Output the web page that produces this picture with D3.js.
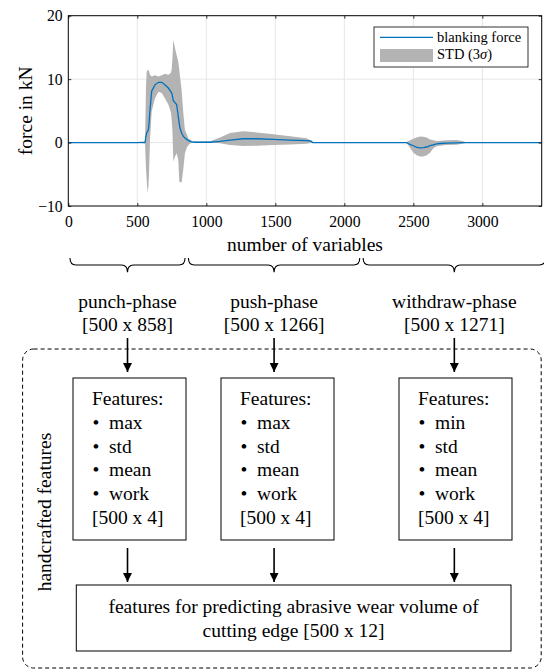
<!DOCTYPE html>
<html>
<head>
<meta charset="utf-8">
<script src="https://cdn.jsdelivr.net/npm/d3@7"></script>
<style>
  body { margin: 0; background: #fff; }
  svg { display: block; font-family: "Liberation Serif", "Times New Roman", serif; }
</style>
</head>
<body>
<svg id="fig" width="544" height="670"></svg>
<script>
// sample positions (number of variables) and force values in kN
const varIdx = [0, 500, 556, 563, 568, 575, 580, 585, 592, 604, 628, 653, 677, 700, 725, 744, 749, 754,
  761, 773, 785, 797, 804, 809, 821, 833, 845, 858, 870, 894, 918, 1027, 1099, 1172, 1268, 1365,
  1486, 1607, 1727, 1757, 1771, 2440, 2452, 2476, 2500, 2525, 2549, 2573, 2597, 2621, 2645, 2669,
  2693, 2742, 2814, 2862, 2887, 3430];
const meanForce = [0, 0, 0.05, 1.0, 1.5, 1.8, 2.0, 3.0, 5.2, 8.1, 9.1, 9.5, 9.5, 9.1, 8.6, 8.0, 7.8, 7.4,
  6.6, 6.3, 6.0, 4.1, 3.0, 2.3, 1.5, 1.0, 0.7, 0.5, 0.3, 0.1, 0.05, 0.05, 0.2, 0.4, 0.6, 0.6,
  0.5, 0.4, 0.3, 0.25, 0, 0, 0, -0.3, -0.5, -0.75, -0.85, -0.8, -0.7, -0.5, -0.35, -0.2,
  -0.15, -0.1, -0.05, 0, 0, 0];
const stdUpper = [0, 0, 0.1, 9.0, 11.2, 11.4, 11.5, 11.2, 10.7, 10.4, 10.6, 10.4, 10.6, 10.85, 10.7, 11.0, 11.5, 13.0,
  16.2, 14.9, 13.8, 12.7, 11.5, 10.5, 8.3, 4.7, 2.0, 1.3, 0.7, 0.3, 0.15, 0.2, 0.8, 1.5, 1.8, 1.6,
  1.3, 1.0, 0.7, 0.3, 0, 0, 0.1, 0.35, 0.6, 0.8, 0.95, 0.9, 0.8, 0.5, 0.35, 0.25,
  0.3, 0.35, 0.4, 0.2, 0, 0];
const stdLower = [0, 0, -0.2, -4.2, -6.0, -7.9, -7.0, -4.8, 0.5, 4.9, 7.0, 8.0, 7.8, 7.0, 6.0, 4.7, 3.5, 2.0,
  -3.0, -2.2, -1.7, -2.7, -6.1, -6.2, -6.3, -4.2, -1.7, -0.8, -0.4, 0, -0.05, 0, -0.1, -0.4, -0.55, -0.5,
  -0.4, -0.3, -0.2, -0.05, 0, 0, -0.1, -0.8, -1.6, -2.0, -2.2, -2.2, -2.0, -1.6, -0.9, -0.6,
  -0.5, -0.4, -0.35, -0.15, 0, 0];

const xTicks = [0, 500, 1000, 1500, 2000, 2500, 3000];
const yTicks = [-10, 0, 10, 20];

const phaseNames = ["punch-phase", "push-phase", "withdraw-phase"];
const phaseSizes = ["[500 x 858]", "[500 x 1266]", "[500 x 1271]"];
const phaseBounds = [0, 858, 2124, 3470];
const featureLists = [
  ["max", "std", "mean", "work"],
  ["max", "std", "mean", "work"],
  ["min", "std", "mean", "work"]
];
const featureSize = "[500 x 4]";
const resultLines = ["features for predicting abrasive wear volume of", "cutting edge [500 x 12]"];

const svg = d3.select("#fig");
const plot = { left: 68.3, right: 541.7, top: 15.7, bottom: 206 };
const x = d3.scaleLinear().domain([0, 3430]).range([plot.left, plot.right]);
const y = d3.scaleLinear().domain([-10, 20]).range([plot.bottom, plot.top]);
const pts = varIdx.map((v, i) => ({ v, m: meanForce[i], hi: stdUpper[i], lo: stdLower[i] }));

// grid
const grid = svg.append("g").attr("stroke", "#e3e3e3").attr("stroke-width", 0.9);
grid.selectAll("line.gx").data(xTicks.slice(1)).enter().append("line")
  .attr("x1", d => x(d)).attr("x2", d => x(d)).attr("y1", plot.top).attr("y2", plot.bottom);
grid.selectAll("line.gy").data(yTicks.slice(1, -1)).enter().append("line")
  .attr("x1", plot.left).attr("x2", plot.right).attr("y1", d => y(d)).attr("y2", d => y(d));

// std band and mean curve
svg.append("path").datum(pts)
  .attr("fill", "#b3b3b3")
  .attr("d", d3.area().x(d => x(d.v)).y0(d => y(d.lo)).y1(d => y(d.hi)));
svg.append("path").datum(pts)
  .attr("fill", "none").attr("stroke", "#0072BD").attr("stroke-width", 1.3)
  .attr("d", d3.line().x(d => x(d.v)).y(d => y(d.m)));

// axes (inward ticks, box on)
const fmt = d3.format("d");
const axB = svg.append("g").attr("transform", `translate(0,${plot.bottom})`)
  .call(d3.axisBottom(x).tickValues(xTicks).tickSize(-3).tickSizeOuter(0).tickPadding(9.5).tickFormat(fmt));
const axL = svg.append("g").attr("transform", `translate(${plot.left},0)`)
  .call(d3.axisLeft(y).tickValues(yTicks).tickSize(-3).tickSizeOuter(0).tickPadding(5.6).tickFormat(fmt));
svg.append("g").attr("transform", `translate(0,${plot.top})`)
  .call(d3.axisTop(x).tickValues(xTicks).tickSize(-3).tickSizeOuter(0).tickFormat(""));
svg.append("g").attr("transform", `translate(${plot.right},0)`)
  .call(d3.axisRight(y).tickValues(yTicks).tickSize(-3).tickSizeOuter(0).tickFormat(""));
svg.selectAll(".domain").remove();
svg.selectAll(".tick line").attr("stroke", "#000").attr("stroke-width", 0.8);
[axB, axL].forEach(a => a.selectAll("text").attr("font-family", "Liberation Serif").attr("font-size", 15.7).attr("fill", "#000"));
svg.append("rect")
  .attr("x", plot.left).attr("y", plot.top)
  .attr("width", plot.right - plot.left).attr("height", plot.bottom - plot.top)
  .attr("fill", "none").attr("stroke", "#000").attr("stroke-width", 1);

svg.append("text").attr("x", (plot.left + plot.right) / 2).attr("y", 251)
  .attr("text-anchor", "middle").attr("font-size", 19.5).text("number of variables");
svg.append("text").attr("transform", `translate(32,${(plot.top + plot.bottom) / 2}) rotate(-90)`)
  .attr("text-anchor", "middle").attr("font-size", 19.5).text("force in kN");

// legend
const lg = svg.append("g");
lg.append("rect").attr("x", 374).attr("y", 27).attr("width", 154).attr("height", 40)
  .attr("fill", "#fff").attr("stroke", "#000").attr("stroke-width", 0.8);
lg.append("line").attr("x1", 380).attr("x2", 433).attr("y1", 37.3).attr("y2", 37.3)
  .attr("stroke", "#0072BD").attr("stroke-width", 1.3);
lg.append("rect").attr("x", 380).attr("y", 49).attr("width", 53).attr("height", 13).attr("fill", "#b3b3b3");
lg.append("text").attr("x", 437).attr("y", 41.5).attr("font-size", 14.5).text("blanking force");
const t2 = lg.append("text").attr("x", 437).attr("y", 59).attr("font-size", 14.5);
t2.append("tspan").text("STD (3");
t2.append("tspan").attr("font-style", "italic").text("σ");
t2.append("tspan").text(")");

// braces under the axis
const braceTop = 258, braceMid = 265, braceTip = 272.3;
function bracePath(x1, x2) {
  const m = (x1 + x2) / 2, q = 6;
  return `M${x1},${braceTop} Q${x1},${braceMid} ${x1 + q},${braceMid} L${m - q},${braceMid}` +
    ` Q${m},${braceMid} ${m},${braceTip} Q${m},${braceMid} ${m + q},${braceMid}` +
    ` L${x2 - q},${braceMid} Q${x2},${braceMid} ${x2},${braceTop}`;
}
const phases = phaseNames.map((n, i) => {
  const a = x(phaseBounds[i]) + 1.7, b = x(phaseBounds[i + 1]) - 1.7;
  return { name: n, size: phaseSizes[i], a, b, c: (a + b) / 2 };
});
svg.selectAll("path.brace").data(phases).enter().append("path")
  .attr("d", d => bracePath(d.a, d.b))
  .attr("fill", "none").attr("stroke", "#000").attr("stroke-width", 1.1);
svg.selectAll("text.pname").data(phases).enter().append("text")
  .attr("x", d => d.c).attr("y", 308).attr("text-anchor", "middle").attr("font-size", 19.5).text(d => d.name);
svg.selectAll("text.psize").data(phases).enter().append("text")
  .attr("x", d => d.c).attr("y", 330.5).attr("text-anchor", "middle").attr("font-size", 19.5).text(d => d.size);

// flow diagram
svg.append("defs").append("marker").attr("id", "ah")
  .attr("viewBox", "0 0 10 10").attr("refX", 10).attr("refY", 5)
  .attr("markerWidth", 9).attr("markerHeight", 9).attr("markerUnits", "userSpaceOnUse")
  .attr("orient", "auto")
  .append("path").attr("d", "M0,0 L10,5 L0,10 z").attr("fill", "#000");

svg.append("rect").attr("x", 22.6).attr("y", 349).attr("width", 518.6).attr("height", 319)
  .attr("rx", 11).attr("fill", "none").attr("stroke", "#000").attr("stroke-width", 1)
  .attr("stroke-dasharray", "4,3");
svg.append("text").attr("transform", "translate(51,512) rotate(-90)")
  .attr("text-anchor", "middle").attr("font-size", 19.5).text("handcrafted features");

const boxLeft = [73, 221, 399];
const boxW = 113;
const arrowX = phases.map(p => p.c);
arrowX.forEach(ax => {
  svg.append("line").attr("x1", ax).attr("x2", ax).attr("y1", 338).attr("y2", 372)
    .attr("stroke", "#000").attr("stroke-width", 1.6).attr("marker-end", "url(#ah)");
  svg.append("line").attr("x1", ax).attr("x2", ax).attr("y1", 548).attr("y2", 582)
    .attr("stroke", "#000").attr("stroke-width", 1.6).attr("marker-end", "url(#ah)");
});
featureLists.forEach((list, i) => {
  const bx = boxLeft[i];
  const g = svg.append("g");
  g.append("rect").attr("x", bx).attr("y", 378).attr("width", boxW).attr("height", 162)
    .attr("fill", "#fff").attr("stroke", "#000").attr("stroke-width", 1);
  g.append("text").attr("x", bx + 19).attr("y", 405).attr("font-size", 19.5).text("Features:");
  list.forEach((f, j) => {
    g.append("text").attr("x", bx + 19.5).attr("y", 429 + j * 23.7).attr("font-size", 19.5).text("•");
    g.append("text").attr("x", bx + 36).attr("y", 429 + j * 23.7).attr("font-size", 19.5).text(f);
  });
  g.append("text").attr("x", bx + 19).attr("y", 524).attr("font-size", 19.5).text(featureSize);
});
svg.append("rect").attr("x", 76.3).attr("y", 585).attr("width", 434.7).attr("height", 66)
  .attr("fill", "#fff").attr("stroke", "#000").attr("stroke-width", 1);
resultLines.forEach((t, i) => {
  svg.append("text").attr("x", 293.6).attr("y", 613 + i * 24).attr("text-anchor", "middle")
    .attr("font-size", 19.5).text(t);
});
</script>
</body>
</html>
